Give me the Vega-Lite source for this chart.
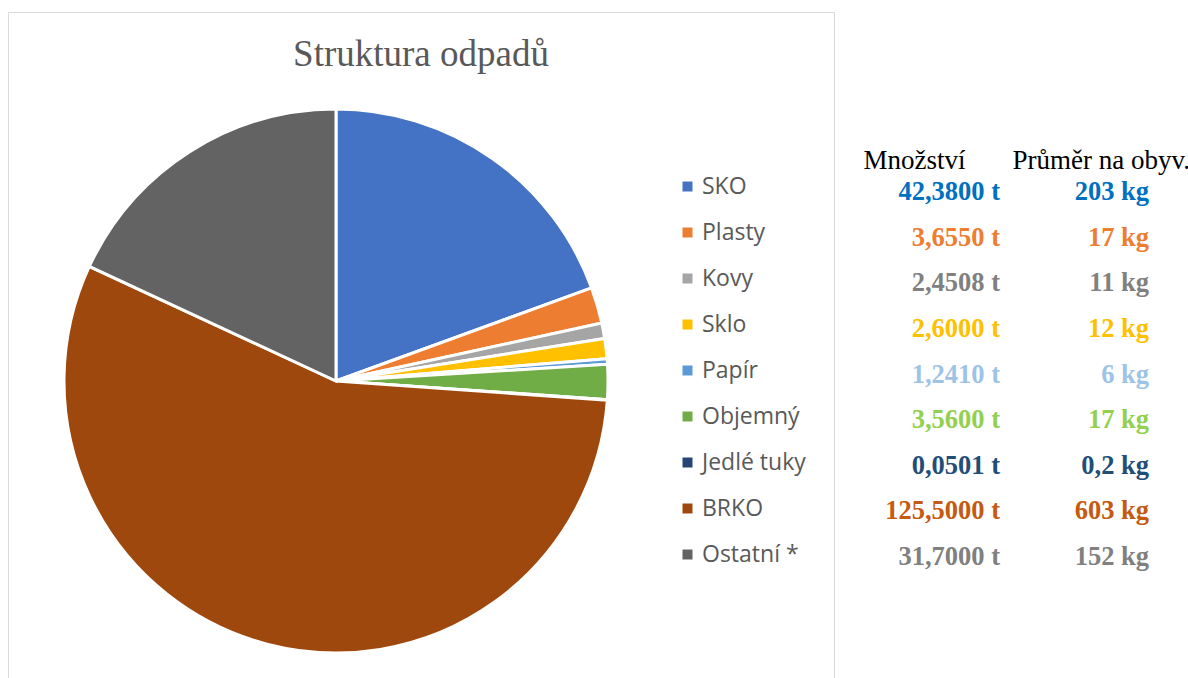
{
  "$schema": "https://vega.github.io/schema/vega-lite/v6.json",
  "background": "white",
  "padding": {"left": 7, "top": 11, "right": 0, "bottom": 0},
  "config": {"view": {"stroke": null}},
  "datasets": {
    "odpady": [
      {"druh": "SKO", "podil": 19.44, "mnozstvi": "42,3800 t", "prumer": "203 kg"},
      {"druh": "Plasty", "podil": 2.14, "mnozstvi": "3,6550 t", "prumer": "17 kg"},
      {"druh": "Kovy", "podil": 0.92, "mnozstvi": "2,4508 t", "prumer": "11 kg"},
      {"druh": "Sklo", "podil": 1.19, "mnozstvi": "2,6000 t", "prumer": "12 kg"},
      {"druh": "Papír", "podil": 0.33, "mnozstvi": "1,2410 t", "prumer": "6 kg"},
      {"druh": "Objemný", "podil": 2.07, "mnozstvi": "3,5600 t", "prumer": "17 kg"},
      {"druh": "Jedlé tuky", "podil": 0.03, "mnozstvi": "0,0501 t", "prumer": "0,2 kg"},
      {"druh": "BRKO", "podil": 55.79, "mnozstvi": "125,5000 t", "prumer": "603 kg"},
      {"druh": "Ostatní *", "podil": 18.08, "mnozstvi": "31,7000 t", "prumer": "152 kg"}
    ]
  },
  "spacing": 0,
  "hconcat": [
    {
      "width": 826,
      "height": 666,
      "view": {"stroke": "#d9d9d9", "strokeWidth": 1},
      "title": {"text": "Struktura odpadů", "font": "Liberation Serif", "fontSize": 37, "fontWeight": "normal", "color": "#595959", "offset": -62, "anchor": "middle"},
      "data": {"name": "odpady"},
      "transform": [{"window": [{"op": "row_number", "as": "poradi"}]}],
      "mark": {"type": "arc", "outerRadius": 272, "stroke": "white", "strokeWidth": 3, "xOffset": -85, "yOffset": 36},
      "encoding": {
        "theta": {"field": "podil", "type": "quantitative", "stack": true},
        "order": {"field": "poradi", "type": "quantitative", "sort": "ascending"},
        "color": {
          "field": "druh",
          "type": "nominal",
          "sort": ["SKO", "Plasty", "Kovy", "Sklo", "Papír", "Objemný", "Jedlé tuky", "BRKO", "Ostatní *"],
          "scale": {
            "domain": ["SKO", "Plasty", "Kovy", "Sklo", "Papír", "Objemný", "Jedlé tuky", "BRKO", "Ostatní *"],
            "range": ["#4472C4", "#ED7D31", "#A5A5A5", "#FFC000", "#5B9BD5", "#70AD47", "#264478", "#9E480E", "#636363"]
          },
          "legend": {
            "title": null,
            "orient": "none",
            "legendX": 668,
            "legendY": 163,
            "direction": "vertical",
            "padding": 0,
            "symbolType": "square",
            "symbolSize": 100,
            "symbolStrokeWidth": 0,
            "labelFont": "Open Sans",
            "labelFontSize": 23,
            "labelColor": "#595959",
            "labelOffset": 3,
            "rowPadding": 22
          }
        }
      }
    },
    {
      "width": 352,
      "height": 666,
      "data": {"name": "odpady"},
      "transform": [{"fold": ["mnozstvi", "prumer"], "as": ["sloupec", "hodnota"]}],
      "mark": {"type": "text", "align": "right", "baseline": "middle", "font": "Liberation Serif", "fontSize": 26.5, "fontWeight": "bold", "dx": 137},
      "encoding": {
        "x": {
          "field": "sloupec", "type": "nominal",
          "scale": {"type": "point", "domain": ["mnozstvi", "prumer"], "range": [28, 177], "padding": 0},
          "axis": {
            "orient": "top", "offset": -148, "title": null, "domain": false, "ticks": false, "tickSize": 0,
            "labelPadding": 0, "labelAlign": "left", "labelBaseline": "middle", "labelAngle": 0,
            "labelFont": "Liberation Serif", "labelFontSize": 27, "labelColor": "#000000", "labelFontWeight": "normal",
            "labelExpr": "datum.value == 'mnozstvi' ? 'Množství' : 'Průměr na obyv.'"
          }
        },
        "y": {
          "field": "druh", "type": "nominal",
          "scale": {"type": "point", "domain": ["SKO", "Plasty", "Kovy", "Sklo", "Papír", "Objemný", "Jedlé tuky", "BRKO", "Ostatní *"], "range": [180, 545], "padding": 0},
          "axis": null
        },
        "text": {"field": "hodnota", "type": "nominal"},
        "fill": {
          "field": "druh", "type": "nominal",
          "scale": {
            "domain": ["SKO", "Plasty", "Kovy", "Sklo", "Papír", "Objemný", "Jedlé tuky", "BRKO", "Ostatní *"],
            "range": ["#0070C0", "#ED7D31", "#808080", "#FFC000", "#9DC3E6", "#92D050", "#1F4E79", "#C55A11", "#808080"]
          },
          "legend": null
        }
      }
    }
  ]
}
